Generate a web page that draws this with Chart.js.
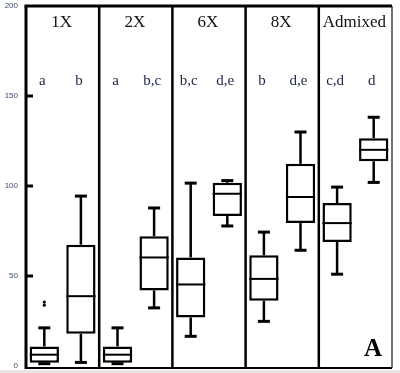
<!DOCTYPE html>
<html>
<head>
<meta charset="utf-8">
<script src="https://cdn.jsdelivr.net/npm/chart.js@4/dist/chart.umd.min.js"></script>
<style>
	body { margin:0; background:#fff; }
	#wrap { position:relative; width:400px; height:373px; }
</style>
</head>
<body>
<div id="wrap"><canvas id="c" width="400" height="373"></canvas></div>
<script>
const groups = ['1X', '2X', '6X', '8X', 'Admixed']
const boxes = ['1X-1', '1X-2', '2X-1', '2X-2', '6X-1', '6X-2', '8X-1', '8X-2', 'Adm-1', 'Adm-2']
const letters = ['a', 'b', 'a', 'b,c', 'b,c', 'd,e', 'b', 'd,e', 'c,d', 'd']
const mins = [1.3, 2, 1.3, 32.3, 16.5, 77.8, 24.8, 64.3, 51, 102]
const q1s = [1.8, 17.9, 1.8, 42, 27, 83.3, 36.2, 79.4, 68.9, 113.8]
const medians = [6.3, 38.8, 6.3, 60.3, 45.3, 95.7, 48.4, 93.9, 79.4, 120.1]
const q3s = [10.9, 67.4, 10.9, 72.1, 60.3, 101.8, 61.5, 112.3, 90.5, 126.6]
const maxs = [21.2, 94.4, 21.2, 87.8, 101.6, 103, 74.4, 130, 99.4, 138.2]
const outlierBox = ['1X-1', '1X-1']
const outlierVals = [35.5, 33.8]
const yTicks = [0, 50, 100, 150, 200]
const panel = 'A'

const ln = (ctx, x1, y1, x2, y2) => { ctx.beginPath(); ctx.moveTo(x1, y1); ctx.lineTo(x2, y2); ctx.stroke() }

const boxPlugin = {
	id: 'boxes',
	beforeDraw: c => {
		const ctx = c.ctx
		ctx.save()
		ctx.fillStyle = '#fff'
		ctx.fillRect(0, 0, c.width, c.height)
		ctx.fillStyle = '#e8e5de'
		ctx.fillRect(0, 370, c.width, c.height - 370)
		ctx.restore()
	},
	afterDatasetsDraw: c => {
		const {ctx, scales: {x, y}} = c
		const bw = x.width / boxes.length * 0.8, cap = 12
		ctx.save()
		ctx.strokeStyle = '#000'
		boxes.forEach((b, i) => {
			const px = x.getPixelForValue(i)
			ctx.lineWidth = 2.5
			ln(ctx, px, y.getPixelForValue(q3s[i]), px, y.getPixelForValue(maxs[i]))
			ln(ctx, px, y.getPixelForValue(q1s[i]), px, y.getPixelForValue(mins[i]))
			ctx.lineWidth = 3
			ln(ctx, px - cap / 2, y.getPixelForValue(maxs[i]), px + cap / 2, y.getPixelForValue(maxs[i]))
			ln(ctx, px - cap / 2, y.getPixelForValue(mins[i]), px + cap / 2, y.getPixelForValue(mins[i]))
			ctx.lineWidth = 2
			ln(ctx, px - bw / 2, y.getPixelForValue(medians[i]), px + bw / 2, y.getPixelForValue(medians[i]))
		})
		ctx.restore()
	},
	afterDraw: c => {
		const {ctx, chartArea: a, scales: {x, y}} = c
		ctx.save()
		ctx.strokeStyle = '#000'
		// group dividers
		ctx.lineWidth = 2.5
		for (let g = 1; g < groups.length; g++) {
			const px = (x.getPixelForValue(g * 2 - 1) + x.getPixelForValue(g * 2)) / 2
			ln(ctx, px, a.top, px, a.bottom)
		}
		// frame
		ctx.lineWidth = 1.5
		ctx.strokeStyle = '#444'
		ln(ctx, a.right, a.top, a.right, a.bottom)
		ctx.strokeStyle = '#000'
		ctx.lineWidth = 2
		ln(ctx, a.left, a.bottom, a.right, a.bottom)
		ctx.lineWidth = 3
		ln(ctx, a.left - 1.5, a.top, a.right, a.top)
		ln(ctx, a.left, a.top, a.left, a.bottom + 1)
		yTicks.slice(1, -1).forEach(v => ln(ctx, a.left, y.getPixelForValue(v), a.left + 7, y.getPixelForValue(v)))
		// titles
		ctx.textAlign = 'center'
		ctx.textBaseline = 'alphabetic'
		ctx.fillStyle = '#111'
		ctx.font = '17px "Liberation Serif"'
		groups.forEach((g, i) => {
			const px = (x.getPixelForValue(i * 2) + x.getPixelForValue(i * 2 + 1)) / 2
			ctx.fillText(g, px - 1, a.top + 21)
		})
		ctx.fillStyle = '#1c2444'
		ctx.font = '15px "Liberation Serif"'
		letters.forEach((l, i) => ctx.fillText(l, x.getPixelForValue(i) - 2, a.top + 79))
		ctx.fillStyle = '#000'
		ctx.textAlign = 'left'
		ctx.font = 'bold 25px "Liberation Serif"'
		ctx.fillText(panel, 364, 356)
		ctx.restore()
	}
}

new Chart(document.getElementById('c'), {
	type: 'bar',
	data: {
		labels: boxes,
		datasets: [{
			type: 'bar',
			data: q1s.map((v, i) => [v, q3s[i]]),
			backgroundColor: '#fff',
			borderColor: '#000',
			borderWidth: 2.5,
			borderSkipped: false,
			barPercentage: 0.8,
			categoryPercentage: 1,
		},
		{
			type: 'line',
			data: outlierVals.map((v, i) => ({x: outlierBox[i], y: v})),
			showLine: false,
			pointRadius: 1.6,
			pointBackgroundColor: '#000',
			pointBorderColor: '#000',
			pointBorderWidth: 0,
		}]
	},
	options: {
		responsive: false,
		animation: false,
		layout: { padding: { top: 6, right: 8, bottom: 5, left: 0 } },
		plugins: { legend: { display: false }, tooltip: { enabled: false } },
		scales: {
			x: { display: false },
			y: {
				min: -1.1,
				max: 200,
				afterBuildTicks: s => { s.ticks = yTicks.map(v => ({ value: v })) },
				afterFit: s => { s.width = 26; s.paddingTop = 0; s.paddingBottom = 0 },
				grid: { display: false, drawTicks: false },
				border: { display: false },
				ticks: {
					color: '#3e4a68',
					padding: 8,
					font: { family: '"Liberation Sans"', size: 8 },
				}
			}
		}
	},
	plugins: [boxPlugin]
})
</script>
</body>
</html>
